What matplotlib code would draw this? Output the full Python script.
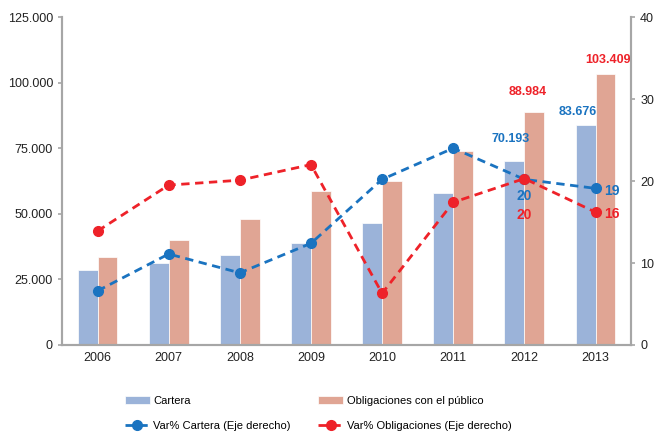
import numpy as np
import matplotlib
matplotlib.use('Agg')
import matplotlib.pyplot as plt
from matplotlib.ticker import FuncFormatter

plt.rcParams['font.family'] = ['Liberation Sans', 'DejaVu Sans']

years = ['2006', '2007', '2008', '2009', '2010', '2011', '2012', '2013']
cartera = [28.5, 31.3, 34.4, 38.9, 46.6, 58.0, 70.193, 83.676]          # miles
obligaciones = [33.6, 40.2, 48.2, 58.8, 62.6, 74.0, 88.984, 103.409]
var_cartera = [6.6, 11.1, 8.8, 12.4, 20.2, 24.0, 20.2, 19.1]
var_oblig = [13.9, 19.5, 20.1, 22.0, 6.3, 17.4, 20.3, 16.2]

c_bar1 = '#9bb3d9'
c_bar2 = '#e0a594'
c_line1 = '#1a73c0'
c_line2 = '#ee2229'
gris = '#a6a6a6'

fig = plt.figure(figsize=(6.56, 4.32), dpi=100)
ax = fig.add_axes([0.0945, 0.2014, 0.8675, 0.7592])
ax2 = ax.twinx()

x = np.arange(len(years))
w = 0.28
b1 = ax.bar(x - w/2, cartera, w, color=c_bar1, edgecolor='white', linewidth=0.5, label='Cartera')
b2 = ax.bar(x + w/2, obligaciones, w, color=c_bar2, edgecolor='white', linewidth=0.5,
            label='Obligaciones con el público')

l1, = ax2.plot(x, var_cartera, '--o', color=c_line1, lw=2, ms=7, dashes=(3, 2),
               label='Var% Cartera (Eje derecho)')
l2, = ax2.plot(x, var_oblig, '--o', color=c_line2, lw=2, ms=7, dashes=(3, 2),
               label='Var% Obligaciones (Eje derecho)')

ax.set_xlim(-0.5, len(years) - 0.5)
ax.set_ylim(0, 125)
ax2.set_ylim(0, 40)
ax.set_yticks([0, 25, 50, 75, 100, 125])
ax2.set_yticks([0, 10, 20, 30, 40])
ax.yaxis.set_major_formatter(FuncFormatter(lambda v, p: '0' if v == 0 else f'{v:.3f}'))
ax.set_xticks(x)
ax.set_xticklabels(years)

for a in (ax, ax2):
    for s in a.spines.values():
        s.set_color(gris)
        s.set_linewidth(1.5)
    a.spines['top'].set_visible(False)
    a.tick_params(colors=gris, labelcolor='#222222', labelsize=9, length=3, width=1.2)
ax.tick_params(axis='x', length=0, pad=5)

# etiquetas de valores
fmt = lambda v: f'{v:.3f}'
ax.text(x[6] - 0.2, cartera[6] + 6, fmt(cartera[6]), color=c_line1, fontsize=9,
        fontweight='bold', ha='center', va='bottom')
ax.text(x[7] - 0.25, cartera[7] + 3, fmt(cartera[7]), color=c_line1, fontsize=9,
        fontweight='bold', ha='center', va='bottom')
ax.text(x[6] + 0.05, obligaciones[6] + 5, fmt(obligaciones[6]), color=c_line2, fontsize=9,
        fontweight='bold', ha='center', va='bottom')
ax.text(x[7] + 0.18, obligaciones[7] + 3, fmt(obligaciones[7]), color=c_line2, fontsize=9,
        fontweight='bold', ha='center', va='bottom')

ax2.text(x[6], var_cartera[6] - 1.2, f'{var_cartera[6]:.0f}', color=c_line1, fontsize=10,
         fontweight='bold', ha='center', va='top')
ax2.text(x[6], var_oblig[6] - 3.6, f'{var_oblig[6]:.0f}', color=c_line2, fontsize=10,
         fontweight='bold', ha='center', va='top')
ax2.text(x[7] + 0.12, var_cartera[7] - 0.3, f'{var_cartera[7]:.0f}', color=c_line1, fontsize=10,
         fontweight='bold', ha='left', va='center')
ax2.text(x[7] + 0.12, var_oblig[7] - 0.2, f'{var_oblig[7]:.0f}', color=c_line2, fontsize=10,
         fontweight='bold', ha='left', va='center')

fig.legend([b1, l1, b2, l2],
           ['Cartera', 'Var% Cartera (Eje derecho)',
            'Obligaciones con el público', 'Var% Obligaciones (Eje derecho)'],
           loc='lower left', bbox_to_anchor=(0.175, -0.02), ncol=2, frameon=False,
           fontsize=8, handlelength=2.25, columnspacing=2.5, labelspacing=1.35,
           handletextpad=0.3)

fig.savefig('out.png', dpi=100)
